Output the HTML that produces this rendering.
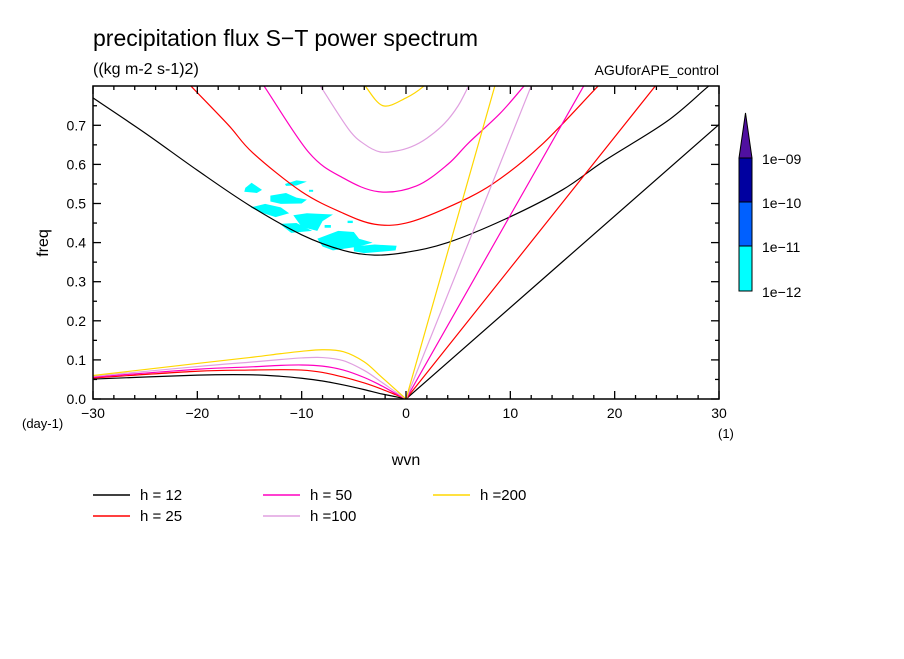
<!DOCTYPE html>
<html><head><meta charset="utf-8"><style>
body{margin:0;background:#fff}
svg text{font-family:"Liberation Sans",sans-serif;fill:#000}
</style></head><body>
<svg id="c" width="904" height="654" viewBox="0 0 904 654" xmlns="http://www.w3.org/2000/svg">
<defs><clipPath id="pc"><rect x="93" y="86" width="626" height="313"/></clipPath></defs>
<text x="93" y="46" font-size="23">precipitation flux S−T power spectrum</text>
<text x="93" y="74" font-size="16">((kg m-2 s-1)2)</text>
<text x="719" y="75" font-size="14" text-anchor="end">AGUforAPE_control</text>
<g id="blobs" clip-path="url(#pc)" fill="#00ffff"></g>
<g id="curves" clip-path="url(#pc)" fill="none" stroke-width="1.2"></g>
<rect x="93" y="86" width="626" height="313" fill="none" stroke="#000" stroke-width="1.5"/>
<g id="axes"></g>
<text x="406" y="465" font-size="16" text-anchor="middle">wvn</text>
<text x="48" y="243" font-size="16" text-anchor="middle" transform="rotate(-90 48 243)">freq</text>
<text x="22" y="428" font-size="13">(day-1)</text>
<text x="718" y="438" font-size="13">(1)</text>
<g id="cbar">
<polygon points="739,158 752,158 745.5,113" fill="#5010a0" stroke="#000"/>
<rect x="739" y="158" width="13" height="44" fill="#0000a0" stroke="#000"/>
<rect x="739" y="202" width="13" height="44" fill="#0060ff" stroke="#000"/>
<rect x="739" y="246" width="13" height="45" fill="#00ffff" stroke="#000"/>
<text x="762" y="164" font-size="14">1e−09</text>
<text x="762" y="208" font-size="14">1e−10</text>
<text x="762" y="252" font-size="14">1e−11</text>
<text x="762" y="297" font-size="14">1e−12</text>
</g>
<g id="legend"></g>
</svg>
<script>
const hLabels=["h = 12","h = 25","h = 50","h =100","h =200"];
const colors=["#000000","#ff0000","#ff00c0","#e0a0e0","#ffd700"];
const xTicks=[-30,-20,-10,0,10,20,30];
const yTicks=[0,0.1,0.2,0.3,0.4,0.5,0.6,0.7];
const kelvinSlope=[0.0234,0.0335,0.047,0.0667,0.094];
const igK=[[-30,-25,-20,-15,-10,-6,-3,0,4,9.5,15,19,25,29,31],[-22,-20.6,-17,-14.7,-10,-6,-3,0,4,8.3,13,18.4,20],[-14.5,-13.6,-9.3,-6,-2.6,1,4,6,9,11.3,12],[-9,-8.2,-5.5,-4,-2.5,-1,0.5,2,3.7,5,6,6.5],[-4.5,-3.9,-2.2,0,1.7,2.2]];
const igF=[[0.77,0.68,0.585,0.495,0.42,0.38,0.368,0.375,0.40,0.46,0.535,0.609,0.71,0.80,0.84],[0.84,0.80,0.70,0.63,0.53,0.475,0.447,0.45,0.49,0.55,0.65,0.80,0.84],[0.83,0.80,0.63,0.565,0.53,0.545,0.60,0.655,0.73,0.80,0.82],[0.83,0.80,0.69,0.652,0.632,0.634,0.645,0.667,0.705,0.75,0.80,0.82],[0.82,0.80,0.75,0.77,0.80,0.82]];
const rossK=[-30,-20,-15,-12,-10,-8,-6,-4,-2.5,-1,0];
const rossF=[[0.051,0.061,0.062,0.058,0.053,0.046,0.036,0.024,0.014,0.006,0],[0.054,0.071,0.074,0.075,0.074,0.068,0.056,0.041,0.027,0.011,0],[0.056,0.076,0.082,0.086,0.087,0.084,0.074,0.055,0.036,0.014,0],[0.058,0.083,0.094,0.101,0.105,0.106,0.098,0.073,0.046,0.018,0],[0.060,0.091,0.106,0.116,0.122,0.126,0.121,0.095,0.060,0.024,0]];
const blobK=[[-15.4,-14.8,-13.8,-14.3,-15.5],[-13,-11.5,-10.5,-9.5,-10,-12,-13],[-11.6,-10.5,-9.5,-10.5,-11.5],[-14.9,-13.5,-12,-11.2,-12.5,-14],[-10.8,-9.5,-7,-8,-8.5,-10],[-12.1,-10.5,-9,-11],[-8.5,-6.5,-5,-4.5,-3.2,-4.5,-7,-8],[-5,-3,-0.9,-1,-4,-5],[-7.8,-7.2,-7.2,-7.8],[-5.6,-5.1,-5.1,-5.6],[-9.3,-8.9,-8.9,-9.3]];
const blobF=[[0.54,0.553,0.535,0.527,0.53],[0.52,0.527,0.515,0.51,0.5,0.499,0.505],[0.55,0.559,0.556,0.546,0.545],[0.49,0.499,0.49,0.475,0.465,0.478],[0.47,0.475,0.472,0.455,0.43,0.44],[0.448,0.45,0.43,0.425],[0.41,0.43,0.427,0.41,0.40,0.39,0.38,0.39],[0.39,0.395,0.392,0.38,0.373,0.378],[0.445,0.445,0.438,0.438],[0.456,0.456,0.45,0.45],[0.535,0.535,0.53,0.53]];
const X=k=>406+k*(626/60), Y=f=>399-f*391;
const NS="http://www.w3.org/2000/svg";
function mk(t,p,a){const e=document.createElementNS(NS,t);for(const k in a)e.setAttribute(k,a[k]);p.appendChild(e);return e;}
function smooth(pts){let d='M'+pts[0][0]+','+pts[0][1];
for(let i=0;i<pts.length-1;i++){const p0=pts[i-1]||pts[i],p1=pts[i],p2=pts[i+1],p3=pts[i+2]||p2;
d+=' C'+(p1[0]+(p2[0]-p0[0])/6)+','+(p1[1]+(p2[1]-p0[1])/6)+' '+(p2[0]-(p3[0]-p1[0])/6)+','+(p2[1]-(p3[1]-p1[1])/6)+' '+p2[0]+','+p2[1];}
return d;}
const cg=document.getElementById('curves');
function curve(ks,fs,col,name){const e=mk('path',cg,{d:smooth(ks.map((k,i)=>[X(k),Y(fs[i])])),stroke:col});

}
colors.forEach((c,i)=>{
curve([0,30],[0,30*kelvinSlope[i]],c,'kelvin-curve');
curve(igK[i],igF[i],c,'inertia-gravity-curve');
curve(rossK,rossF[i],c,'rossby-curve');});
const bg=document.getElementById('blobs');
blobK.forEach((ks,i)=>{const e=mk('polygon',bg,{points:ks.map((k,j)=>X(k)+','+Y(blobF[i][j])).join(' ')});

});
const ag=document.getElementById('axes');
for(let k=-30;k<=30;k+=2){const big=xTicks.includes(k),L=big?8:4;
mk('line',ag,{x1:X(k),x2:X(k),y1:399,y2:399-L,stroke:'#000','stroke-width':1.3});
mk('line',ag,{x1:X(k),x2:X(k),y1:86,y2:86+L,stroke:'#000','stroke-width':1.3});}
xTicks.forEach(k=>{const t=mk('text',ag,{x:X(k),y:418,'font-size':14,'text-anchor':'middle'});t.textContent=k<0?'−'+(-k):k;

});
for(let f=0;f<=0.8;f+=0.05){const big=Math.abs(f*10-Math.round(f*10))<1e-6,L=big?8:4;
mk('line',ag,{x1:93,x2:93+L,y1:Y(f),y2:Y(f),stroke:'#000','stroke-width':1.3});
mk('line',ag,{x1:719,x2:719-L,y1:Y(f),y2:Y(f),stroke:'#000','stroke-width':1.3});}
yTicks.forEach(f=>{const t=mk('text',ag,{x:86,y:Y(f)+5,'font-size':14,'text-anchor':'end'});t.textContent=f.toFixed(1);

});
const lg=document.getElementById('legend');
const lx=[93,93,263,263,433],ly=[495,516,495,516,495];
hLabels.forEach((h,i)=>{mk('line',lg,{x1:lx[i],x2:lx[i]+37,y1:ly[i],y2:ly[i],stroke:colors[i],'stroke-width':1.5});
const t=mk('text',lg,{x:lx[i]+47,y:ly[i]+5,'font-size':15});t.textContent=h;

});
</script>
</body></html>
